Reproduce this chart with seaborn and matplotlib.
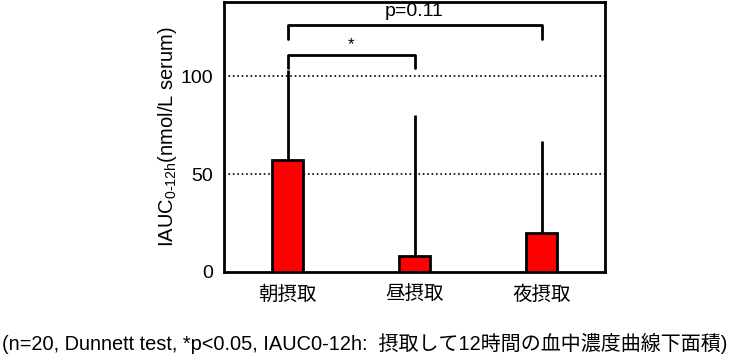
import matplotlib
matplotlib.use('Agg')
import numpy as np
import pandas as pd
import matplotlib.pyplot as plt
import seaborn as sns

groups = ['朝摂取', '昼摂取', '夜摂取']
means = [57, 8, 20]
sd = [46, 72, 47]

sns.set_style('white')
plt.rcParams['font.family'] = ['Liberation Sans', 'Noto Sans CJK JP']
plt.rcParams['mathtext.fontset'] = 'custom'
plt.rcParams['mathtext.rm'] = 'Liberation Sans'
for k in ['text.color', 'axes.labelcolor', 'xtick.color', 'ytick.color']:
    plt.rcParams[k] = 'black'

df = pd.DataFrame({'group': groups, 'mean': means})

fig = plt.figure(figsize=(7.29, 3.56), dpi=100)
ax = fig.add_axes([224 / 729, 1 - 272 / 356, 381 / 729, 270 / 356])

sns.barplot(data=df, x='group', y='mean', color='#ff0000', width=0.25,
            edgecolor='black', linewidth=2, saturation=1, errorbar=None, ax=ax, zorder=3)
ax.errorbar(range(len(groups)), means, yerr=[np.zeros(len(sd)), sd], fmt='none',
            ecolor='black', elinewidth=2, capsize=0, zorder=2)

ax.set_xlim(-0.5, 2.5)
ax.set_ylim(0, 138)
ax.set_yticks([0, 50, 100])
for y in [50, 100]:
    ax.axhline(y, color='black', linestyle=':', linewidth=1.2, zorder=1)

for s in ax.spines.values():
    s.set_color('black')
    s.set_linewidth(2)
ax.tick_params(axis='y', length=0, labelsize=14, pad=8)
ax.tick_params(axis='x', length=0, labelsize=14, pad=10)
ax.set_xlabel('')
ax.set_ylabel(r'IAUC$_{\mathregular{0\text{-}12h}}$(nmol/L serum)', fontsize=14.5, labelpad=1)

# significance brackets
def bracket(x1, x2, y, h, label, ty, fs):
    ax.plot([x1, x1, x2, x2], [y - h, y, y, y - h], color='black', lw=2, clip_on=False, zorder=4)
    ax.text((x1 + x2) / 2, ty, label, ha='center', va='center', fontsize=fs)

bracket(0, 1, 111, 6.5, '*', 116, 12)
bracket(0, 2, 126, 7, 'p=0.11', 133, 14)

fig.text(0.5, 1 - 343 / 356,
         '(n=20, Dunnett test, *p<0.05, IAUC0-12h:  摂取して12時間の血中濃度曲線下面積)',
         ha='center', va='center', fontsize=14.4)

fig.savefig('out.png', dpi=100)
